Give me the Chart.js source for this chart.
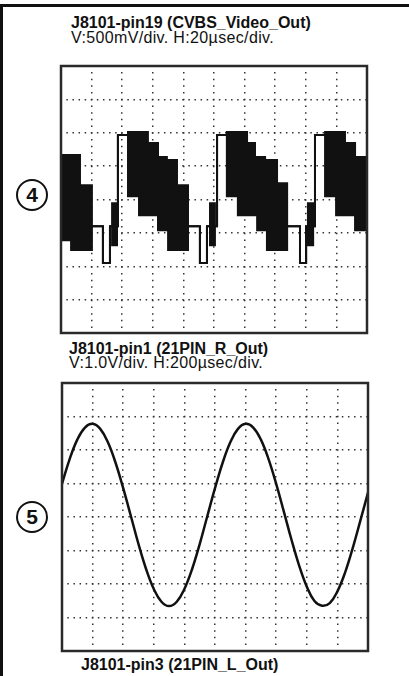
<!DOCTYPE html>
<html>
<head>
<meta charset="utf-8">
<script src="https://cdn.jsdelivr.net/npm/chart.js@4.4.1/dist/chart.umd.min.js"></script>
<style>
  body { margin: 0; background: #fff; }
  #page { position: relative; width: 409px; height: 676px; overflow: hidden; background: #fff;
          font-family: "Liberation Sans", Arial, sans-serif; color: #111; }
  .frameTop { position: absolute; left: 0; top: 4px; width: 409px; height: 3px; background: #111; }
  .frameLeft { position: absolute; left: 0; top: 4px; width: 3px; height: 672px; background: #111; }
  .txt { position: absolute; font-size: 16px; line-height: 16px; white-space: nowrap; }
  .bold { font-weight: bold; }
  .sub { letter-spacing: 0.35px; }
  .badge { position: absolute; width: 32px; height: 32px; box-sizing: border-box; border: 2px solid #111;
           border-radius: 50%; font-weight: bold; font-size: 21px; line-height: 28px; text-align: center; }
  canvas { position: absolute; }
</style>
</head>
<body>
<div id="page">
  <div class="frameTop"></div>
  <div class="frameLeft"></div>

  <div class="txt bold" style="left:71px; top:15px;">J8101-pin19 (CVBS_Video_Out)</div>
  <div class="txt sub" style="left:71px; top:30px;">V:500mV/div. H:20µsec/div.</div>
  <canvas id="chartVideo" width="316" height="277" style="left:56px; top:61px;"></canvas>
  <div class="badge" style="left:16px; top:179px;">4</div>

  <div class="txt bold" style="left:69px; top:341px;">J8101-pin1 (21PIN_R_Out)</div>
  <div class="txt sub" style="left:69px; top:355px;">V:1.0V/div. H:200µsec/div.</div>
  <canvas id="chartAudio" width="316" height="278" style="left:57px; top:378px;"></canvas>
  <div class="badge" style="left:16px; top:501px;">5</div>

  <div class="txt bold" style="left:81px; top:657px;">J8101-pin3 (21PIN_L_Out)</div>
</div>

<script>
// screen divisions: x 0-10, y 0-8 (0 = bottom graticule line)

// CVBS trace, held from each time until the next one
var videoTime   = [0, 0.33, 0.62, 1.01, 1.37, 1.60, 1.67, 1.83, 1.86, 2.19,
                   2.55, 2.84, 3.17, 3.46, 3.50, 3.79, 4.15, 4.54, 4.77, 4.87,
                   5.03, 5.10, 5.42, 5.78, 6.08, 6.34, 6.41, 6.67, 6.73, 7.06,
                   7.39, 7.81, 8.01, 8.07, 8.24, 8.30, 8.63, 8.99, 9.28, 9.61, 10];
var videoTop    = [5.33, 5.33, 4.43, 3.20, 2.10, 3.20, 3.89, 3.20, 5.93, 6.02,
                   6.02, 5.69, 5.27, 5.18, 5.18, 4.43, 3.20, 2.10, 3.20, 3.89,
                   3.20, 5.93, 6.02, 6.02, 5.69, 5.27, 5.27, 5.18, 5.18, 4.49,
                   3.20, 2.10, 3.20, 3.89, 3.20, 5.93, 6.02, 6.02, 5.69, 5.27, 5.27];
var videoBottom = [2.78, 2.49, 2.49, 3.20, 2.10, 3.20, 2.63, 3.20, 5.93, 4.10,
                   3.53, 3.53, 3.08, 3.08, 2.49, 2.49, 3.20, 2.10, 3.20, 2.63,
                   3.20, 5.93, 4.10, 3.53, 3.53, 3.53, 3.08, 3.08, 2.49, 2.49,
                   3.20, 2.10, 3.20, 2.63, 3.20, 5.93, 4.10, 3.53, 3.53, 3.08, 3.08];

// 1 kHz audio sine
var sineTime  = [0, 0.25, 0.5, 0.75, 1, 1.25, 1.5, 1.75, 2, 2.25,
                 2.5, 2.75, 3, 3.25, 3.5, 3.75, 4, 4.25, 4.5, 4.75,
                 5, 5.25, 5.5, 5.75, 6, 6.25, 6.5, 6.75, 7, 7.25,
                 7.5, 7.75, 8, 8.25, 8.5, 8.75, 9, 9.25, 9.5, 9.75, 10];
var sineLevel = [4.99, 5.73, 6.31, 6.67, 6.78, 6.63, 6.23, 5.62, 4.86, 4.03,
                 3.19, 2.44, 1.85, 1.47, 1.34, 1.47, 1.85, 2.44, 3.19, 4.03,
                 4.86, 5.62, 6.23, 6.63, 6.78, 6.67, 6.31, 5.73, 4.99, 4.16,
                 3.32, 2.55, 1.92, 1.49, 1.35, 1.43, 1.78, 2.34, 3.07, 3.89, 4.73];

function points(xs, ys) {
    return xs.map(function (x, i) { return { x: x, y: ys[i] }; });
}

var scopeFrame = {
    id: 'scopeFrame',
    afterDraw: function (chart) {
        var a = chart.chartArea, ctx = chart.ctx;
        ctx.save();
        ctx.strokeStyle = '#2a2a2a';
        ctx.lineWidth = 2.5;
        ctx.strokeRect(a.left, a.top, a.right - a.left, a.bottom - a.top);
        ctx.restore();
    }
};

function scopeOptions() {
    return {
        responsive: false,
        animation: false,
        layout: { padding: 5 },
        plugins: { legend: { display: false }, tooltip: { enabled: false } },
        scales: {
            x: {
                type: 'linear', min: 0, max: 10,
                ticks: { display: false, stepSize: 1 },
                grid: { color: '#333', lineWidth: 1.5, drawTicks: false },
                border: { display: false, dash: [1.5, 5.2], dashOffset: 0.75 }
            },
            y: {
                type: 'linear', min: 0, max: 8,
                ticks: { display: false, stepSize: 1 },
                grid: { color: '#333', lineWidth: 1.5, drawTicks: false },
                border: { display: false, dash: [1.5, 4.6], dashOffset: 0.75 }
            }
        }
    };
}

var video = document.getElementById('chartVideo').getContext('2d');
new Chart(video, {
    type: 'line',
    data: {
        datasets: [{
            label: 'top',
            data: points(videoTime, videoTop),
            borderColor: '#111',
            borderWidth: 2,
            pointRadius: 0,
            stepped: true,
            fill: false
        }, {
            label: 'bottom',
            data: points(videoTime, videoBottom),
            borderColor: '#111',
            backgroundColor: '#111',
            borderWidth: 2,
            pointRadius: 0,
            stepped: true,
            fill: '-1'
        }]
    },
    options: scopeOptions(),
    plugins: [scopeFrame]
});

var audio = document.getElementById('chartAudio').getContext('2d');
new Chart(audio, {
    type: 'line',
    data: {
        datasets: [{
            label: '21PIN_R_Out',
            data: points(sineTime, sineLevel),
            borderColor: '#111',
            borderWidth: 2.5,
            pointRadius: 0,
            tension: 0.4,
            fill: false
        }]
    },
    options: scopeOptions(),
    plugins: [scopeFrame]
});
</script>
</body>
</html>
